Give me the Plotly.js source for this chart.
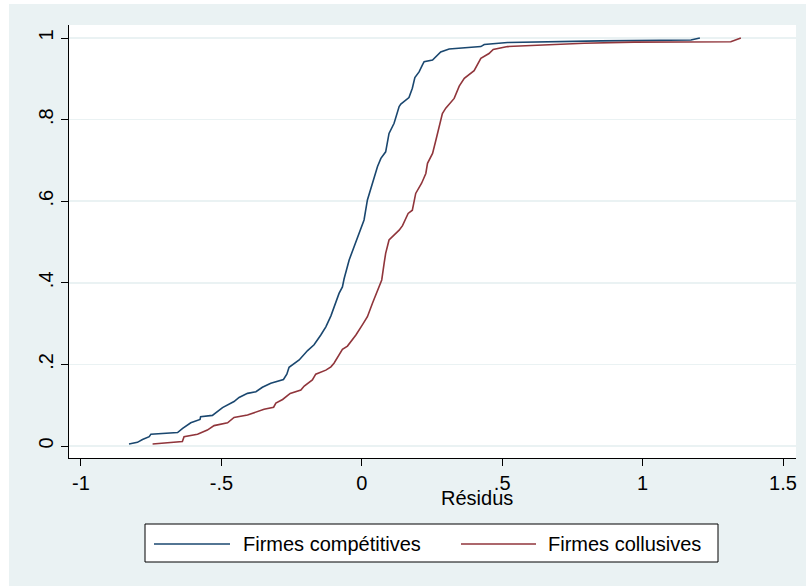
<!DOCTYPE html>
<html>
<head>
<meta charset="utf-8">
<script src="https://cdn.plot.ly/plotly-3.0.1.min.js"></script>
<style>html,body{margin:0;padding:0;background:#fff;}#chart{width:806px;height:586px;}</style>
</head>
<body>
<div id="chart"></div>
<script>
const seriesNames = ["Firmes compétitives", "Firmes collusives"];
const seriesColors = ["#1a476f", "#90353b"];

const compX = [-0.829,-0.799,-0.781,-0.757,-0.751,-0.656,-0.638,-0.609,-0.576,-0.574,-0.532,-0.496,-0.455,-0.437,-0.407,-0.377,-0.354,-0.324,-0.279,-0.267,-0.259,-0.241,-0.223,-0.193,-0.170,-0.146,-0.128,-0.110,-0.093,-0.081,-0.069,-0.063,-0.045,-0.027,-0.010,0.008,0.020,0.038,0.056,0.068,0.085,0.097,0.115,0.133,0.139,0.168,0.180,0.189,0.204,0.216,0.222,0.252,0.281,0.311,0.424,0.436,0.519,0.851,1.172,1.204];
const compY = [0.005,0.009,0.016,0.023,0.029,0.033,0.043,0.057,0.065,0.072,0.075,0.094,0.109,0.119,0.129,0.133,0.144,0.154,0.163,0.176,0.193,0.203,0.211,0.234,0.248,0.272,0.292,0.319,0.350,0.374,0.390,0.410,0.456,0.488,0.517,0.554,0.603,0.644,0.685,0.705,0.721,0.766,0.791,0.832,0.838,0.854,0.877,0.903,0.917,0.934,0.942,0.946,0.966,0.973,0.979,0.984,0.989,0.993,0.995,1.0];

const collX = [-0.745,-0.639,-0.633,-0.585,-0.550,-0.526,-0.478,-0.455,-0.407,-0.377,-0.348,-0.314,-0.306,-0.282,-0.255,-0.217,-0.205,-0.176,-0.164,-0.128,-0.110,-0.099,-0.069,-0.051,-0.021,0.002,0.020,0.038,0.050,0.062,0.071,0.080,0.085,0.097,0.109,0.133,0.145,0.151,0.165,0.180,0.192,0.213,0.228,0.234,0.252,0.264,0.275,0.287,0.299,0.317,0.329,0.347,0.365,0.400,0.410,0.424,0.453,0.468,0.519,0.792,0.970,1.314,1.350];
const collY = [0.005,0.011,0.023,0.029,0.039,0.050,0.057,0.070,0.076,0.084,0.090,0.095,0.105,0.114,0.129,0.137,0.147,0.162,0.176,0.186,0.194,0.203,0.237,0.245,0.272,0.297,0.317,0.350,0.370,0.390,0.407,0.450,0.472,0.505,0.513,0.529,0.540,0.550,0.570,0.578,0.619,0.644,0.668,0.693,0.717,0.750,0.779,0.815,0.828,0.844,0.852,0.882,0.901,0.920,0.934,0.950,0.962,0.972,0.979,0.987,0.990,0.991,1.0];

const xTickVals = [-1, -0.5, 0, 0.5, 1, 1.5];
const xTickText = ["-1", "-.5", "0", ".5", "1", "1.5"];
const yTickVals = [0, 0.2, 0.4, 0.6, 0.8, 1];
const yTickText = ["0", ".2", ".4", ".6", ".8", "1"];
const xTitle = "Résidus";

const FONT = "Liberation Sans, Arial, sans-serif";
const BG = "#eaf2f3";

const traces = [
  {x: compX, y: compY, type: "scatter", mode: "lines", name: seriesNames[0],
   line: {color: seriesColors[0], width: 1.6}, hoverinfo: "skip"},
  {x: collX, y: collY, type: "scatter", mode: "lines", name: seriesNames[1],
   line: {color: seriesColors[1], width: 1.6}, hoverinfo: "skip"}
];

// plot area in pixels: left 69, right 796, top 25, bottom 458
const W = 806, H = 586, L = 69, R = 10, T = 25, B = 128;
const pw = W - L - R, ph = H - T - B;
const px = v => (v - L) / pw;
const py = v => (H - B - v) / ph;

const shapes = [
  // white strips at the top and left of the figure
  {type: "rect", xref: "paper", yref: "paper", x0: px(0), x1: px(9), y0: py(586), y1: py(0),
   fillcolor: "#ffffff", line: {width: 0}, layer: "below"},
  {type: "rect", xref: "paper", yref: "paper", x0: px(0), x1: px(806), y0: py(4), y1: py(0),
   fillcolor: "#ffffff", line: {width: 0}, layer: "below"},
  // legend box
  {type: "rect", xref: "paper", yref: "paper", x0: px(145), x1: px(718), y0: py(562), y1: py(524),
   fillcolor: "#ffffff", line: {color: "#000000", width: 1}},
  {type: "line", xref: "paper", yref: "paper", x0: px(154), x1: px(230), y0: py(544), y1: py(544),
   line: {color: seriesColors[0], width: 1.6}},
  {type: "line", xref: "paper", yref: "paper", x0: px(461), x1: px(536), y0: py(544), y1: py(544),
   line: {color: seriesColors[1], width: 1.6}}
];

const annotations = [
  {text: xTitle, xref: "paper", yref: "paper", x: px(477), y: py(498), xanchor: "center", yanchor: "middle",
   showarrow: false, font: {family: FONT, size: 20, color: "#000"}},
  {text: seriesNames[0], xref: "paper", yref: "paper", x: px(241), y: py(544), xanchor: "left", yanchor: "middle",
   showarrow: false, font: {family: FONT, size: 20, color: "#000"}},
  {text: seriesNames[1], xref: "paper", yref: "paper", x: px(546), y: py(544), xanchor: "left", yanchor: "middle",
   showarrow: false, font: {family: FONT, size: 20, color: "#000"}}
];

const layout = {
  width: W, height: H,
  margin: {l: L, r: R, t: T, b: B, pad: 0},
  paper_bgcolor: BG,
  plot_bgcolor: "#ffffff",
  showlegend: false,
  font: {family: FONT, size: 20, color: "#000"},
  xaxis: {
    range: [-1.0427, 1.5463], tickmode: "array", tickvals: xTickVals, ticktext: xTickText,
    showgrid: false, zeroline: false, showline: true, linecolor: "#000", linewidth: 1,
    ticks: "outside", ticklen: 7, tickcolor: "#000", tickwidth: 1,
    tickfont: {family: FONT, size: 20, color: "#000"}
  },
  yaxis: {
    range: [-0.0294, 1.0319], tickmode: "array", tickvals: yTickVals, ticktext: yTickText,
    showgrid: true, gridcolor: BG, gridwidth: 1.5, zeroline: false,
    showline: true, linecolor: "#000", linewidth: 1,
    ticks: "outside", ticklen: 7, tickcolor: "#000", tickwidth: 1, tickangle: -90,
    tickfont: {family: FONT, size: 20, color: "#000"}
  },
  shapes: shapes,
  annotations: annotations
};

Plotly.newPlot("chart", traces, layout, {staticPlot: true, displayModeBar: false});
</script>
</body>
</html>
